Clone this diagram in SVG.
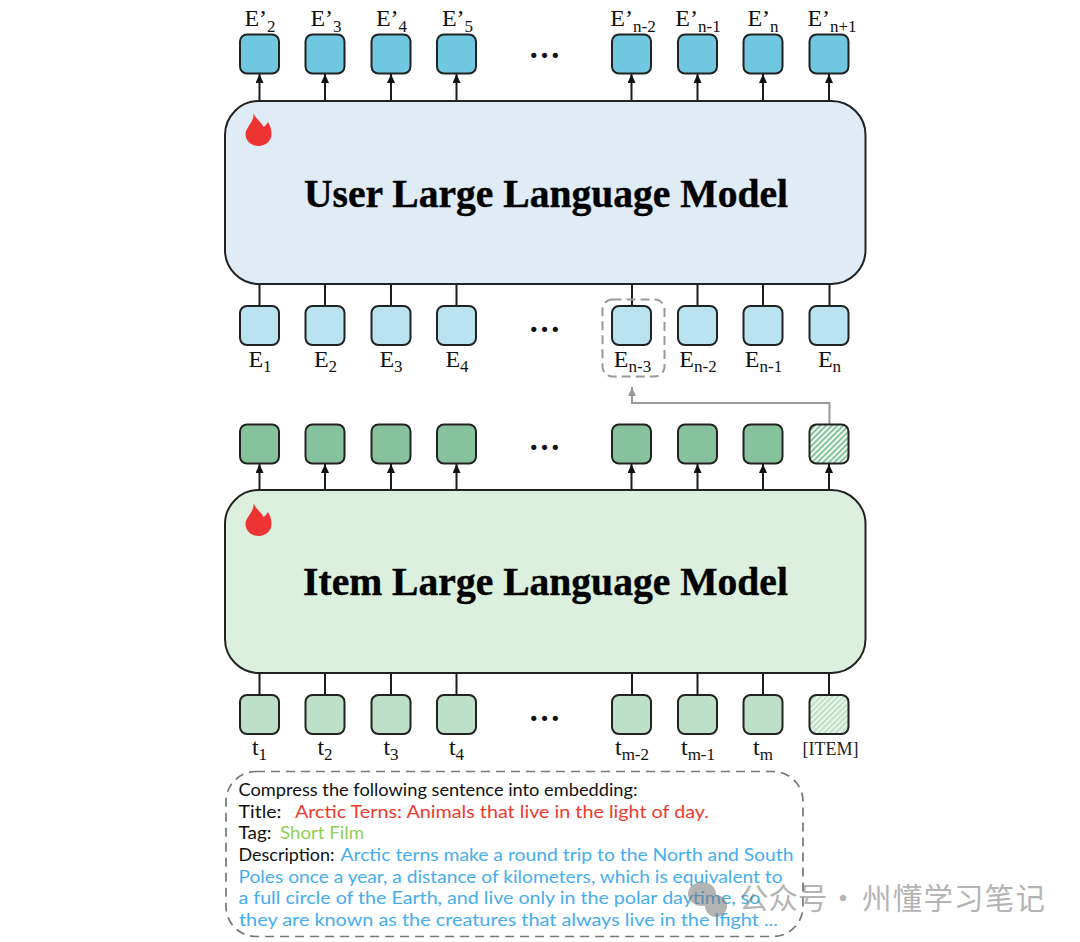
<svg xmlns="http://www.w3.org/2000/svg" width="1080" height="942" viewBox="0 0 1080 942">
<style>
.n{stroke:#222;stroke-width:2}
.e{fill:#6fc7e0}.u{fill:#b9e3f1}.g{fill:#86c39c}.l{fill:#bfe0c8}
.c{stroke:#1c1c1c;stroke-width:2;fill:none}
.t{font-family:"Liberation Serif","Times New Roman",serif;fill:#111;font-size:24px;text-anchor:middle}
.t tspan{font-size:17px}
.h{font-family:"Liberation Serif",serif;font-weight:bold;font-size:39.600px;fill:#000;text-anchor:middle;stroke:#000;stroke-width:.4}
.d{font-family:"Liberation Serif",serif;font-weight:bold;font-size:32px;fill:#111;text-anchor:middle}
.p{font-family:"Lato",sans-serif;font-size:17px}
.k{fill:#111}.r{fill:#f03a2e}.v{fill:#8fcf52}.b{fill:#45aeee}
</style>
<defs>
<marker id="a" markerWidth="10" markerHeight="8" refX="9" refY="4" orient="auto" markerUnits="userSpaceOnUse"><path d="M0 0L9 4L0 8Z" fill="#111"/></marker>
<marker id="ag" markerWidth="10" markerHeight="8" refX="9" refY="4" orient="auto" markerUnits="userSpaceOnUse"><path d="M0 0L9 4L0 8Z" fill="#999"/></marker>
<pattern id="hg" width="4" height="4" patternUnits="userSpaceOnUse" patternTransform="rotate(-45)"><rect width="4" height="4" fill="#fff"/><rect width="4" height="2.200" fill="#86c39c"/></pattern>
<pattern id="hl" width="4" height="4" patternUnits="userSpaceOnUse" patternTransform="rotate(-45)"><rect width="4" height="4" fill="#eef7f0"/><rect width="4" height="2.200" fill="#bfe0c8"/></pattern>
<path id="f" d="M-5 -17C-3 -11 3 -8 5 -3C7 -4 9 -7 9.500 -8C12 -4 13 0 13 4C13 11 7 16 0 16C-7 16 -13 11 -13 4C-13 -3 -4 -8 -5 -17Z" fill="#ee3433"/>
</defs>

<g id="connectors">
<g class="c">
<path marker-end="url(#a)" d="M259.500 101V74"/><path marker-end="url(#a)" d="M325 101V74"/><path marker-end="url(#a)" d="M391 101V74"/><path marker-end="url(#a)" d="M456.500 101V74"/><path marker-end="url(#a)" d="M631.500 101V74"/><path marker-end="url(#a)" d="M697.500 101V74"/><path marker-end="url(#a)" d="M763 101V74"/><path marker-end="url(#a)" d="M829 101V74"/>
<path marker-end="url(#a)" d="M259.500 490V464"/><path marker-end="url(#a)" d="M325 490V464"/><path marker-end="url(#a)" d="M391 490V464"/><path marker-end="url(#a)" d="M456.500 490V464"/><path marker-end="url(#a)" d="M631.500 490V464"/><path marker-end="url(#a)" d="M697.500 490V464"/><path marker-end="url(#a)" d="M763 490V464"/><path marker-end="url(#a)" d="M829 490V464"/>
</g>
<path class="c" d="M259.500 284V306M325 284V306M391 284V306M456.500 284V306M632 284V306M697.500 284V306M763 284V306M829.500 284V306"/>
<path class="c" d="M259.500 673V695M325 673V695M391 673V695M456.500 673V695M632 673V695M697.500 673V695M763 673V695M829 673V695"/>
<path d="M829.500 424V403H632V387" fill="none" stroke="#999" stroke-width="2" marker-end="url(#ag)"/>
</g>

<g id="user-llm"><rect x="225" y="101" width="640.500" height="183" rx="34" fill="#dfebf5" stroke="#222" stroke-width="2"/><use href="#f" x="258.500" y="130"/><text class="h" x="546" y="207">User Large Language Model</text></g>
<g id="item-llm"><rect x="225" y="490" width="640.500" height="183" rx="34" fill="#dcf0df" stroke="#222" stroke-width="2"/><use href="#f" x="258.500" y="520"/><text class="h" x="545.500" y="595">Item Large Language Model</text></g>

<g id="out-2"><rect class="n e" x="240" y="34.500" width="39" height="39" rx="7"/><text class="t" x="260" y="26">E’<tspan dy="6">2</tspan></text></g>
<g id="out-3"><rect class="n e" x="305.500" y="34.500" width="39" height="39" rx="7"/><text class="t" x="326" y="26">E’<tspan dy="6">3</tspan></text></g>
<g id="out-4"><rect class="n e" x="371.500" y="34.500" width="39" height="39" rx="7"/><text class="t" x="391.500" y="26">E’<tspan dy="6">4</tspan></text></g>
<g id="out-5"><rect class="n e" x="437" y="34.500" width="39" height="39" rx="7"/><text class="t" x="457.500" y="26">E’<tspan dy="6">5</tspan></text></g>
<g id="out-n2"><rect class="n e" x="612" y="34.500" width="39" height="39" rx="7"/><text class="t" x="633" y="26">E’<tspan dy="6">n-2</tspan></text></g>
<g id="out-n1"><rect class="n e" x="678" y="34.500" width="39" height="39" rx="7"/><text class="t" x="698" y="26">E’<tspan dy="6">n-1</tspan></text></g>
<g id="out-n"><rect class="n e" x="743.500" y="34.500" width="39" height="39" rx="7"/><text class="t" x="763" y="26">E’<tspan dy="6">n</tspan></text></g>
<g id="out-n+1"><rect class="n e" x="809.500" y="34.500" width="39" height="39" rx="7"/><text class="t" x="832" y="26">E’<tspan dy="6">n+1</tspan></text></g>
<text class="d" x="544.500" y="58">…</text>

<g id="in-1"><rect class="n u" x="240" y="306" width="39" height="39" rx="7"/><text class="t" x="260" y="367">E<tspan dy="5">1</tspan></text></g>
<g id="in-2"><rect class="n u" x="305.500" y="306" width="39" height="39" rx="7"/><text class="t" x="325.500" y="367">E<tspan dy="5">2</tspan></text></g>
<g id="in-3"><rect class="n u" x="371.500" y="306" width="39" height="39" rx="7"/><text class="t" x="391" y="367">E<tspan dy="5">3</tspan></text></g>
<g id="in-4"><rect class="n u" x="437" y="306" width="39" height="39" rx="7"/><text class="t" x="457" y="367">E<tspan dy="5">4</tspan></text></g>
<g id="in-n3"><rect class="n u" x="612" y="306" width="39" height="39" rx="7"/><text class="t" x="632.500" y="367">E<tspan dy="5">n-3</tspan></text><rect x="602.500" y="299.500" width="62" height="77" rx="10" fill="none" stroke="#999" stroke-width="2" stroke-dasharray="9 5"/></g>
<g id="in-n2"><rect class="n u" x="678" y="306" width="39" height="39" rx="7"/><text class="t" x="698" y="367">E<tspan dy="5">n-2</tspan></text></g>
<g id="in-n1"><rect class="n u" x="743.500" y="306" width="39" height="39" rx="7"/><text class="t" x="763.500" y="367">E<tspan dy="5">n-1</tspan></text></g>
<g id="in-n"><rect class="n u" x="809.500" y="306" width="39" height="39" rx="7"/><text class="t" x="829.500" y="367">E<tspan dy="5">n</tspan></text></g>
<text class="d" x="544.500" y="332">…</text>

<g id="emb-1"><rect class="n g" x="240" y="424.500" width="39" height="39" rx="7"/></g>
<g id="emb-2"><rect class="n g" x="305.500" y="424.500" width="39" height="39" rx="7"/></g>
<g id="emb-3"><rect class="n g" x="371.500" y="424.500" width="39" height="39" rx="7"/></g>
<g id="emb-4"><rect class="n g" x="437" y="424.500" width="39" height="39" rx="7"/></g>
<g id="emb-m2"><rect class="n g" x="612" y="424.500" width="39" height="39" rx="7"/></g>
<g id="emb-m1"><rect class="n g" x="678" y="424.500" width="39" height="39" rx="7"/></g>
<g id="emb-m"><rect class="n g" x="743.500" y="424.500" width="39" height="39" rx="7"/></g>
<g id="emb-item"><rect class="n" x="809.500" y="424.500" width="39" height="39" rx="7" fill="url(#hg)"/></g>
<text class="d" x="544.500" y="449.500">…</text>

<g id="tok-1"><rect class="n l" x="240" y="695" width="39" height="39" rx="7"/><text class="t" x="259.500" y="755">t<tspan dy="5">1</tspan></text></g>
<g id="tok-2"><rect class="n l" x="305.500" y="695" width="39" height="39" rx="7"/><text class="t" x="325" y="755">t<tspan dy="5">2</tspan></text></g>
<g id="tok-3"><rect class="n l" x="371.500" y="695" width="39" height="39" rx="7"/><text class="t" x="391" y="755">t<tspan dy="5">3</tspan></text></g>
<g id="tok-4"><rect class="n l" x="437" y="695" width="39" height="39" rx="7"/><text class="t" x="456.500" y="755">t<tspan dy="5">4</tspan></text></g>
<g id="tok-m2"><rect class="n l" x="612" y="695" width="39" height="39" rx="7"/><text class="t" x="632" y="755">t<tspan dy="5">m-2</tspan></text></g>
<g id="tok-m1"><rect class="n l" x="678" y="695" width="39" height="39" rx="7"/><text class="t" x="698" y="755">t<tspan dy="5">m-1</tspan></text></g>
<g id="tok-m"><rect class="n l" x="743.500" y="695" width="39" height="39" rx="7"/><text class="t" x="763" y="755">t<tspan dy="5">m</tspan></text></g>
<g id="tok-item"><rect class="n" x="809.500" y="695" width="39" height="39" rx="7" fill="url(#hl)"/><text x="830.500" y="755" font-family="Liberation Serif,serif" font-size="18" fill="#222" text-anchor="middle">[ITEM]</text></g>
<text class="d" x="544.500" y="720.500">…</text>

<g id="prompt">
<rect x="226" y="771.500" width="577" height="165" rx="30" fill="none" stroke="#777" stroke-width="1.700" stroke-dasharray="9 6"/>
<text class="p k" x="238.500" y="796" textLength="399" lengthAdjust="spacingAndGlyphs">Compress the following sentence into embedding:</text>
<text class="p k" x="238.500" y="818" textLength="43" lengthAdjust="spacingAndGlyphs">Title:</text>
<text class="p r" x="295" y="818" textLength="414" lengthAdjust="spacingAndGlyphs">Arctic Terns: Animals that live in the light of day.</text>
<text class="p k" x="238.500" y="839" textLength="33" lengthAdjust="spacingAndGlyphs">Tag:</text>
<text class="p v" x="280" y="839" textLength="84" lengthAdjust="spacingAndGlyphs">Short Film</text>
<text class="p k" x="238.500" y="861" textLength="96" lengthAdjust="spacingAndGlyphs">Description:</text>
<text class="p b" x="340.500" y="861" textLength="453" lengthAdjust="spacingAndGlyphs">Arctic terns make a round trip to the North and South</text>
<text class="p b" x="238.500" y="883" textLength="544" lengthAdjust="spacingAndGlyphs">Poles once a year, a distance of kilometers, which is equivalent to</text>
<text class="p b" x="238.500" y="904" textLength="522" lengthAdjust="spacingAndGlyphs">a full circle of the Earth, and live only in the polar daytime, so</text>
<text class="p b" x="239" y="926" textLength="539" lengthAdjust="spacingAndGlyphs">they are known as the creatures that always live in the lfight ...</text>
</g>
<g id="watermark" opacity="0.55" fill="#777" font-family="Noto Sans CJK SC,sans-serif" font-size="29.500">
<ellipse cx="702" cy="894" rx="14" ry="12"/><circle cx="716" cy="906" r="11"/>
<text x="739" y="909">公众号</text>
<text x="843" y="909" text-anchor="middle">·</text>
<text x="862" y="909" textLength="183">州懂学习笔记</text>
</g>
</svg>
